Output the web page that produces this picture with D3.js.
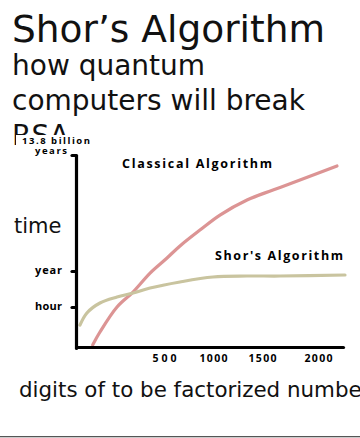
<!DOCTYPE html>
<html><head><meta charset="utf-8">
<script src="https://cdn.jsdelivr.net/npm/d3@7"></script>
<style>body{margin:0;background:#fff;} svg{display:block;}</style>
</head><body>
<svg id="c" width="360" height="438"></svg>
<script>
// ---- data ----
const titleText = "Shor’s Algorithm";
const subtitleLines = ["how quantum", "computers will break", "RSA"];
const yAxisTitle = "time";
const xAxisTitle = "digits of to be factorized number";
const xTickValues = [500, 1000, 1500, 2000];
// time expressed as log10(hours)
const yTickValues = [0, 3.94, 14.08];
const yTickLabels = ["hour", "year", "13.8 billion\nyears"];
const seriesNames = ["Classical Algorithm", "Shor's Algorithm"];
const classicalDigits = [90, 132, 230, 322, 420, 531, 663, 867, 1071, 1347, 1598, 1839, 2152];
const classicalTime   = [-1.85, -1.22, 0, 1.64, 3.72, 5.08, 6.13, 7.52, 8.83, 10.15, 11.02, 11.89, 13.12];
const shorDigits = [17, 57, 132, 230, 322, 420, 663, 1000, 1347, 1661, 2216];
const shorTime   = [-0.88, -0.29, 0.44, 1.09, 1.53, 2.08, 2.74, 3.28, 3.39, 3.39, 3.50];

// ---- drawing ----
const svg = d3.select("#c");
const sans = "DejaVu Sans, sans-serif";
const hand = "Open Sans, sans-serif";

svg.append("text").attr("x", 12).attr("y", 42)
  .attr("font-family", sans).attr("font-size", 37.5).attr("fill", "#111").text(titleText);
svg.append("g").selectAll("text").data(subtitleLines).join("text")
  .attr("x", 12).attr("y", (d, i) => 75 + i * 35)
  .attr("font-family", sans).attr("font-size", 28).attr("fill", "#111").text(d => d);

// chart panel (white background covering text beneath)
svg.append("rect").attr("x", 16).attr("y", 135).attr("width", 344).attr("height", 234).attr("fill", "#fff");

const x = d3.scaleLinear().domain([0, 500, 1000, 1500, 2000, 2200]).range([77, 164, 213, 262, 318, 343]);
const y = d3.scaleLinear().domain([-2, 0, 3.94, 14.08]).range([348, 307, 271, 155]);

const line = d3.line().x(d => x(d[0])).y(d => y(d[1])).curve(d3.curveCatmullRom.alpha(0.5));
const series = [
  {name: seriesNames[0], pts: d3.zip(classicalDigits, classicalTime), color: "#dc9494"},
  {name: seriesNames[1], pts: d3.zip(shorDigits, shorTime), color: "#c9c49f"}
];
svg.append("g").selectAll("path").data(series).join("path")
  .attr("d", d => line(d.pts)).attr("fill", "none")
  .attr("stroke", d => d.color).attr("stroke-width", 3.2).attr("stroke-linecap", "round");

// y axis
const yAxis = svg.append("g").attr("transform", "translate(76,0)")
  .call(d3.axisLeft(y).tickValues(yTickValues).tickSize(4).tickSizeOuter(0).tickPadding(10)
    .tickFormat((d, i) => yTickLabels[i]));
yAxis.select(".domain").attr("stroke", "#000").attr("stroke-width", 3.2).attr("stroke-linecap", "round");
yAxis.selectAll(".tick line").attr("stroke", "#000").attr("stroke-width", 3.2).attr("stroke-linecap", "round");
yAxis.selectAll(".tick text").attr("font-family", hand).attr("font-weight", 700)
  .attr("font-size", 11).attr("fill", "#000").attr("dy", "0.2em");
yAxis.selectAll(".tick text").filter(d => yTickLabels[yTickValues.indexOf(d)].includes("\n"))
  .each(function(d) {
    const t = d3.select(this);
    const parts = yTickLabels[yTickValues.indexOf(d)].split("\n");
    t.text(null).attr("text-anchor", "middle").attr("dy", null).attr("font-size", 9.5);
    t.append("tspan").attr("x", -20).attr("y", -12).attr("textLength", 68).text(parts[0]);
    t.append("tspan").attr("x", -25).attr("y", -2).attr("textLength", 32).text(parts[1]);
  });
yAxis.selectAll(".tick text").filter(function() { return !this.querySelector("tspan"); })
  .attr("textLength", 27);

// x axis
const xAxis = svg.append("g").attr("transform", "translate(0,347)")
  .call(d3.axisBottom(x).tickValues(xTickValues).tickSize(0).tickSizeOuter(0).tickPadding(15)
    .tickFormat(d3.format("d")));
xAxis.select(".domain").attr("stroke", "#000").attr("stroke-width", 3.2).attr("stroke-linecap", "round");
xAxis.selectAll(".tick text").attr("font-family", hand).attr("font-weight", 700)
  .attr("font-size", 10.5).attr("fill", "#000").attr("dy", 0)
  .attr("textLength", d => d < 1000 ? 24 : 28);

// series labels
svg.append("text").attr("x", 122).attr("y", 168).attr("font-family", hand).attr("font-weight", 700)
  .attr("font-size", 12.5).attr("textLength", 150).attr("fill", "#000").text(seriesNames[0]);
svg.append("text").attr("x", 215).attr("y", 260).attr("font-family", hand).attr("font-weight", 700)
  .attr("font-size", 12.5).attr("textLength", 128).attr("fill", "#000").text(seriesNames[1]);

// axis titles
svg.append("text").attr("x", 14).attr("y", 233).attr("font-family", sans).attr("font-size", 21)
  .attr("fill", "#111").text(yAxisTitle);
svg.append("text").attr("x", 19).attr("y", 397).attr("font-family", sans).attr("font-size", 21.4)
  .attr("fill", "#111").text(xAxisTitle);

// bottom rule
svg.append("rect").attr("x", 0).attr("y", 436).attr("width", 360).attr("height", 1.3).attr("fill", "#555");
</script>
</body></html>
